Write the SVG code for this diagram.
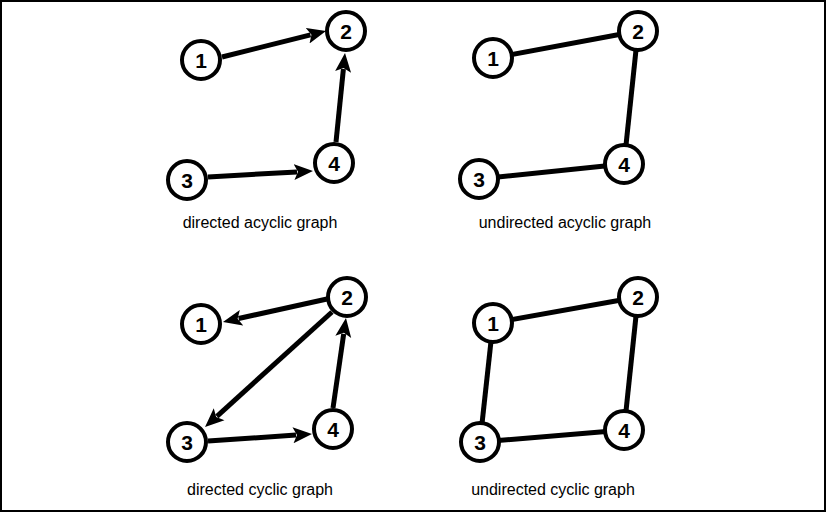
<svg xmlns="http://www.w3.org/2000/svg" width="826" height="512" viewBox="0 0 826 512">
<style>
.node circle{fill:#fff;stroke:#000;stroke-width:4}
.node text{font-family:"Liberation Sans",Arial,sans-serif;font-weight:bold;font-size:21px;text-anchor:middle;fill:#000}
.edge{stroke:#000;stroke-width:5;fill:none}
.arrow{marker-end:url(#ah)}
.label{font-family:"Liberation Sans",Arial,sans-serif;font-size:16px;text-anchor:middle;fill:#000}
</style>
<defs>
<marker id="ah" viewBox="0 -9 20 18" refX="3" refY="0" markerWidth="20" markerHeight="18" markerUnits="userSpaceOnUse" orient="auto">
<path d="M0,-8 L19,0 L0,8 L4,0 Z" fill="#000"/>
</marker>
</defs>
<rect x="1" y="1" width="824" height="510" fill="#fff" stroke="#000" stroke-width="2"/>
<g id="connectors">
<line class="edge arrow" x1="222" y1="57" x2="310.5" y2="34.9"/>
<line class="edge arrow" x1="336" y1="142" x2="343.4" y2="68.9"/>
<line class="edge arrow" x1="208" y1="177" x2="297" y2="171.9"/>
<line class="edge" x1="493" y1="58" x2="638" y2="31"/>
<line class="edge" x1="638" y1="31" x2="624" y2="164"/>
<line class="edge" x1="479" y1="179" x2="624" y2="164"/>
<line class="edge arrow" x1="327" y1="299" x2="238.6" y2="318.5"/>
<line class="edge arrow" x1="332" y1="312" x2="216.9" y2="416.3"/>
<line class="edge arrow" x1="333" y1="408" x2="343.7" y2="333.8"/>
<line class="edge arrow" x1="208" y1="441" x2="296" y2="435.1"/>
<line class="edge" x1="493" y1="323" x2="638" y2="297"/>
<line class="edge" x1="493" y1="323" x2="480" y2="442"/>
<line class="edge" x1="638" y1="297" x2="624" y2="430"/>
<line class="edge" x1="480" y1="442" x2="624" y2="430"/>
</g>
<g id="dag-1" class="node"><circle cx="201" cy="60" r="19"/><text x="201" y="67.5">1</text></g>
<g id="dag-2" class="node"><circle cx="346" cy="31" r="19"/><text x="346" y="38.5">2</text></g>
<g id="dag-3" class="node"><circle cx="187" cy="180" r="19"/><text x="187" y="187.5">3</text></g>
<g id="dag-4" class="node"><circle cx="334" cy="163" r="19"/><text x="334" y="170.5">4</text></g>
<g id="uag-1" class="node"><circle cx="493" cy="58" r="19"/><text x="493" y="65.5">1</text></g>
<g id="uag-2" class="node"><circle cx="638" cy="31" r="19"/><text x="638" y="38.5">2</text></g>
<g id="uag-3" class="node"><circle cx="479" cy="179" r="19"/><text x="479" y="186.5">3</text></g>
<g id="uag-4" class="node"><circle cx="624" cy="164" r="19"/><text x="624" y="171.5">4</text></g>
<g id="dcg-1" class="node"><circle cx="201" cy="324" r="19"/><text x="201" y="331.5">1</text></g>
<g id="dcg-2" class="node"><circle cx="347" cy="297" r="19"/><text x="347" y="304.5">2</text></g>
<g id="dcg-3" class="node"><circle cx="187" cy="442" r="19"/><text x="187" y="449.5">3</text></g>
<g id="dcg-4" class="node"><circle cx="333" cy="429" r="19"/><text x="333" y="436.5">4</text></g>
<g id="ucg-1" class="node"><circle cx="493" cy="323" r="19"/><text x="493" y="330.5">1</text></g>
<g id="ucg-2" class="node"><circle cx="638" cy="297" r="19"/><text x="638" y="304.5">2</text></g>
<g id="ucg-3" class="node"><circle cx="480" cy="442" r="19"/><text x="480" y="449.5">3</text></g>
<g id="ucg-4" class="node"><circle cx="624" cy="430" r="19"/><text x="624" y="437.5">4</text></g>
<text class="label" x="260" y="228">directed acyclic graph</text>
<text class="label" x="565" y="228">undirected acyclic graph</text>
<text class="label" x="260" y="495">directed cyclic graph</text>
<text class="label" x="553" y="495">undirected cyclic graph</text>
</svg>
